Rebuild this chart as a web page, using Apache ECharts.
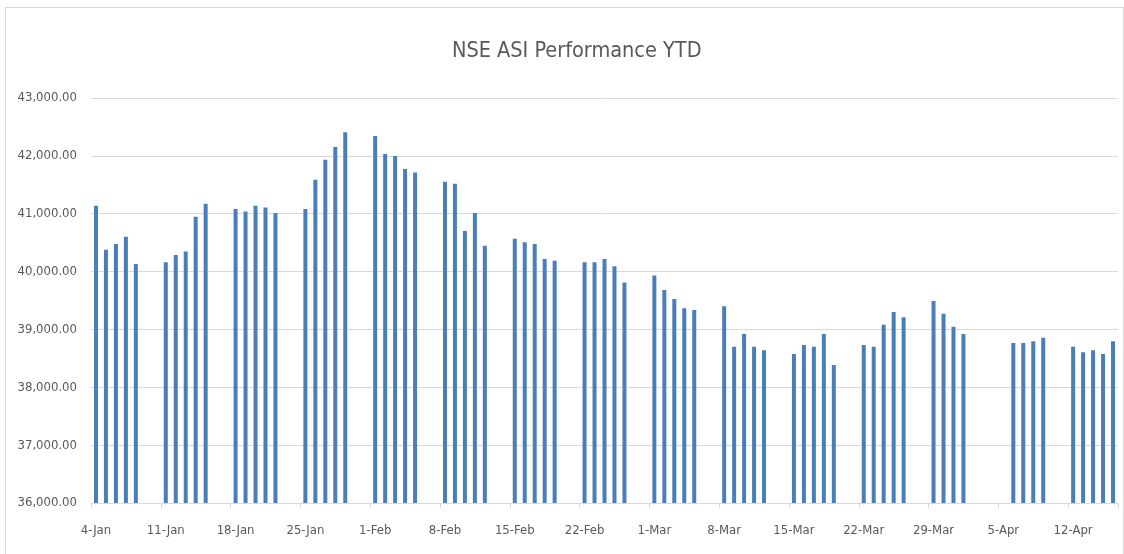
<!DOCTYPE html>
<html>
<head>
<meta charset="utf-8">
<script src="https://cdn.jsdelivr.net/npm/echarts@6/dist/echarts.min.js"></script>
<style>
html,body{margin:0;padding:0;background:#fff;}
#chart{width:1124px;height:554px;}
</style>
</head>
<body>
<div id="chart"></div>
<script>
// Trading days (2021) and NSE ASI closing values
const tradingDays = [
  '2021-01-04','2021-01-05','2021-01-06','2021-01-07','2021-01-08',
  '2021-01-11','2021-01-12','2021-01-13','2021-01-14','2021-01-15',
  '2021-01-18','2021-01-19','2021-01-20','2021-01-21','2021-01-22',
  '2021-01-25','2021-01-26','2021-01-27','2021-01-28','2021-01-29',
  '2021-02-01','2021-02-02','2021-02-03','2021-02-04','2021-02-05',
  '2021-02-08','2021-02-09','2021-02-10','2021-02-11','2021-02-12',
  '2021-02-15','2021-02-16','2021-02-17','2021-02-18','2021-02-19',
  '2021-02-22','2021-02-23','2021-02-24','2021-02-25','2021-02-26',
  '2021-03-01','2021-03-02','2021-03-03','2021-03-04','2021-03-05',
  '2021-03-08','2021-03-09','2021-03-10','2021-03-11','2021-03-12',
  '2021-03-15','2021-03-16','2021-03-17','2021-03-18','2021-03-19',
  '2021-03-22','2021-03-23','2021-03-24','2021-03-25','2021-03-26',
  '2021-03-29','2021-03-30','2021-03-31','2021-04-01',
  '2021-04-06','2021-04-07','2021-04-08','2021-04-09',
  '2021-04-12','2021-04-13','2021-04-14','2021-04-15','2021-04-16'
];
const asiValues = [
  41138, 40378, 40476, 40603, 40130,
  40159, 40286, 40349, 40948, 41173,
  41081, 41040, 41138, 41109, 41012,
  41081, 41588, 41933, 42152, 42406,
  42342, 42031, 41997, 41772, 41714,
  41553, 41518, 40700, 41012, 40447,
  40568, 40505, 40476, 40217, 40188,
  40159, 40159, 40217, 40090, 39813,
  39934, 39681, 39525, 39364, 39335,
  39399, 38702, 38921, 38702, 38638,
  38575, 38730, 38702, 38921, 38385,
  38730, 38702, 39082, 39301, 39209,
  39491, 39272, 39047, 38921,
  38765, 38765, 38794, 38857,
  38702, 38604, 38638, 38575, 38794
];
const axisStart = '2021-01-04';
const axisEnd = '2021-04-16';
const monthNames = ['Jan','Feb','Mar','Apr','May','Jun','Jul','Aug','Sep','Oct','Nov','Dec'];

// Build the daily date axis (calendar days, gaps on non-trading days)
const valueByDay = {};
tradingDays.forEach((d, i) => { valueByDay[d] = asiValues[i]; });
const categories = [];
const seriesData = [];
for (let t = Date.parse(axisStart + 'T00:00:00Z'); t <= Date.parse(axisEnd + 'T00:00:00Z'); t += 86400000) {
  const dt = new Date(t);
  const key = dt.toISOString().slice(0, 10);
  categories.push(dt.getUTCDate() + '-' + monthNames[dt.getUTCMonth()]);
  seriesData.push(key in valueByDay ? valueByDay[key] : null);
}

const chart = echarts.init(document.getElementById('chart'), null, {renderer: 'canvas'});
const font = '"DejaVu Sans Condensed", "Liberation Sans Narrow", sans-serif';
chart.setOption({
  animation: false,
  backgroundColor: '#ffffff',
  graphic: [{
    type: 'rect', left: 3, top: 5,
    shape: {width: 1118, height: 548},
    style: {fill: 'none', stroke: '#d9d9d9', lineWidth: 1}
  }],
  title: {
    text: 'NSE ASI Performance YTD',
    left: 447, top: 35,
    textStyle: {fontFamily: font, fontSize: 21.5, fontWeight: 'normal', color: '#595959'}
  },
  grid: {left: 91, right: 6, top: 98, bottom: 51, containLabel: false},
  xAxis: {
    type: 'category',
    data: categories,
    boundaryGap: true,
    axisLine: {lineStyle: {color: '#d9d9d9', width: 1}},
    axisTick: {show: true, interval: 6, length: 5, lineStyle: {color: '#d9d9d9'}},
    axisLabel: {interval: 6, color: '#595959', fontFamily: font, fontSize: 13, margin: 21},
    splitLine: {show: false}
  },
  yAxis: {
    type: 'value',
    min: 36000, max: 43000, interval: 1000,
    axisLine: {show: false},
    axisTick: {show: false},
    axisLabel: {
      color: '#595959', fontFamily: font, fontSize: 13, margin: 14,
      formatter: v => v.toLocaleString('en-US', {minimumFractionDigits: 2, maximumFractionDigits: 2})
    },
    splitLine: {lineStyle: {color: '#d9d9d9', width: 1}}
  },
  series: [{
    type: 'bar',
    data: seriesData,
    barWidth: 4,
    itemStyle: {color: '#4a7ebb'}
  }]
});
</script>
</body>
</html>
